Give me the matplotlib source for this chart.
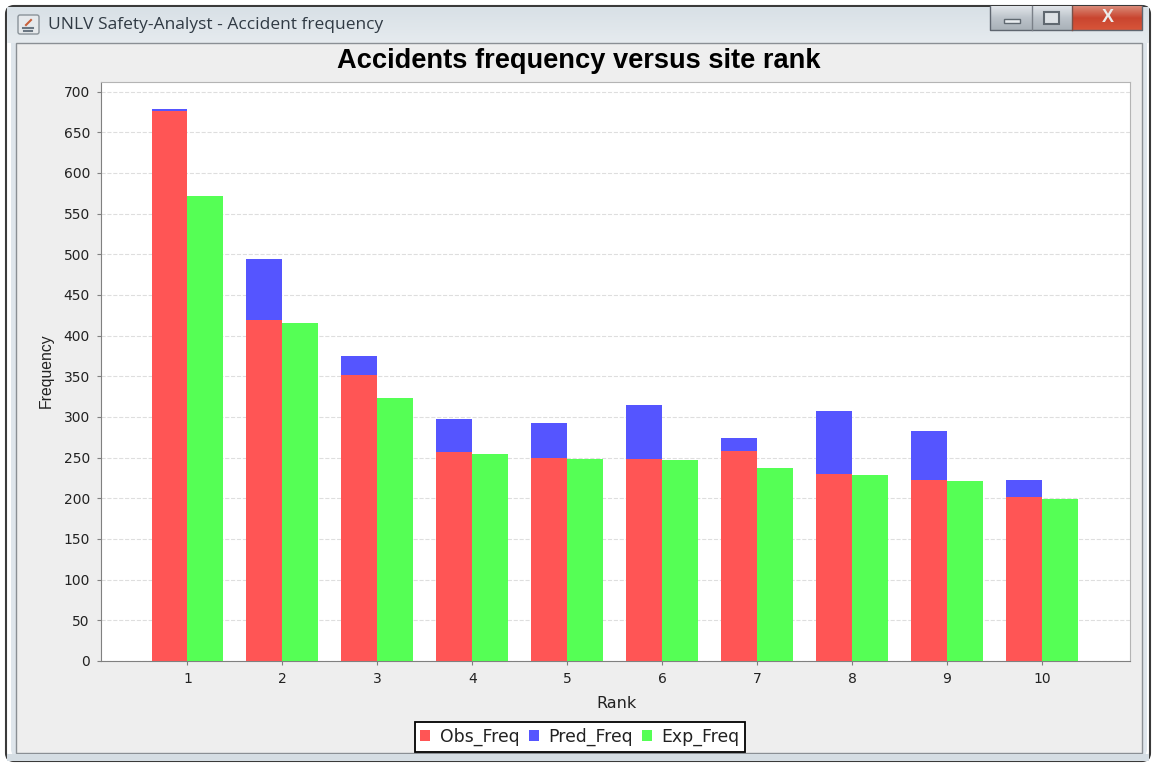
import numpy as np
import matplotlib
matplotlib.use('Agg')
import matplotlib.pyplot as plt
from matplotlib.colors import LinearSegmentedColormap
from matplotlib.patches import FancyBboxPatch, Rectangle

# valores
ranks = [1, 2, 3, 4, 5, 6, 7, 8, 9, 10]
obs_freq = [676, 419, 351, 257, 250, 248, 258, 230, 222, 202]
pred_freq = [679, 494, 375, 297, 293, 315, 274, 307, 283, 222]
exp_freq = [572, 416, 323, 254, 248, 247, 237, 229, 221, 199]
y_ticks = list(range(0, 701, 50))

W, H = 1152, 764
plt.rcParams['font.family'] = ['Liberation Sans', 'DejaVu Sans']

fig = plt.figure(figsize=(W / 100, H / 100), dpi=100, facecolor='white')

# janela do Windows, em pixels
bg = fig.add_axes([0, 0, 1, 1], zorder=0)
bg.axis('off')
bg.add_patch(FancyBboxPatch((11, 11), W - 16, H - 18, boxstyle='round,pad=0,rounding_size=8',
                            fc='#dfe6ec', ec='none', mutation_scale=1))
bg.add_patch(FancyBboxPatch((6, 6), W - 8, H - 9, boxstyle='round,pad=0,rounding_size=8',
                            fc='none', ec='#3a3a3a', lw=1.5, mutation_scale=1))
grad = np.linspace(0, 1, 256).reshape(-1, 1)
bg.imshow(grad, extent=(7, W - 3, 43, 7), cmap=LinearSegmentedColormap.from_list(
    'barra', ['#d8e0e6', '#e6ebef']), aspect='auto', zorder=1)
bg.add_patch(Rectangle((16, 43), 1126, 710, fc='#eeeeee', ec='#8a8f94', lw=1, zorder=2))
bg.add_patch(Rectangle((7, 754), W - 10, 7, fc='#d5dde3', ec='none', zorder=2))
bg.text(48, 25, 'UNLV Safety-Analyst - Accident frequency', fontsize=12.5, family='Open Sans',
        color='#303a44', va='center', ha='left', zorder=3)

# icone
bg.add_patch(FancyBboxPatch((18, 15), 21, 19, boxstyle='round,pad=0,rounding_size=2',
                            fc='#e6e9ec', ec='#8a9299', lw=1, mutation_scale=1, zorder=3))
bg.plot([23, 33], [28, 28], color='#6a7682', lw=1.5, zorder=4)
bg.plot([24, 32], [31, 31], color='#6a7682', lw=1.5, zorder=4)
bg.plot([26, 31], [25, 20], color='#c8603a', lw=1.5, zorder=4)

# botoes
cinza = LinearSegmentedColormap.from_list('cinza', ['#e2e6ea', '#bcc3ca', '#a9b1b8'])
verm = LinearSegmentedColormap.from_list('verm', ['#d98a78', '#c9452f', '#d8553a'])
bg.imshow(grad, extent=(990, 1072, 30, 6), cmap=cinza, aspect='auto', zorder=3)
bg.imshow(grad, extent=(1072, 1142, 30, 6), cmap=verm, aspect='auto', zorder=3)
bg.plot([990, 990, 1142, 1142], [6, 30, 30, 6], color='#5f6670', lw=1, zorder=4)
bg.plot([1032, 1032], [6, 30], color='#7a8088', lw=1, zorder=4)
bg.plot([1072, 1072], [6, 30], color='#7a5048', lw=1, zorder=4)
bg.add_patch(Rectangle((1004, 19), 16, 4, fc='#e8ecef', ec='#5f6870', lw=1, zorder=4))
bg.add_patch(Rectangle((1044, 12), 15, 12, fc='#dde2e6', ec='#5f6870', lw=1.5, zorder=4))
bg.text(1108, 18, 'X', fontsize=13, fontweight='bold', color='#ececec', ha='center', va='center', zorder=5)
bg.set_xlim(0, W)
bg.set_ylim(H, 0)

# grafico
left, right, top, bottom = 101, 1130, 82, 661
ax = fig.add_axes([left / W, 1 - bottom / H, (right - left) / W, (bottom - top) / H], zorder=2)
ax.set_facecolor('white')

x = np.array(ranks)
largura = 0.379
h_pred = ax.bar(x - largura / 2, pred_freq, largura, color='#5555ff', label='Pred_Freq', zorder=3)
h_obs = ax.bar(x - largura / 2, obs_freq, largura, color='#ff5555', label='Obs_Freq', zorder=4)
h_exp = ax.bar(x + largura / 2, exp_freq, largura, color='#55ff55', label='Exp_Freq', zorder=3)

ax.set_xlim(0.089, 10.927)
ax.set_ylim(0, 711.7)
ax.set_xticks(ranks)
ax.set_yticks(y_ticks)
ax.grid(axis='y', color='#dedede', linestyle='--', linewidth=0.8, zorder=0)
ax.tick_params(axis='both', labelsize=10, length=3, width=0.8, color='#808080',
               labelcolor='#222222', pad=5, labelfontfamily='DejaVu Sans')
for s in ax.spines.values():
    s.set_color('#b4b4b4')
ax.spines['left'].set_color('#808080')
ax.spines['bottom'].set_color('#808080')

fig.text(579 / W, 1 - 61 / H, 'Accidents frequency versus site rank', fontsize=19.6, fontweight='bold',
         color='black', ha='center', va='center', zorder=5)
fig.text(616 / W, 1 - 704 / H, 'Rank', fontsize=11.5, family='DejaVu Sans', color='#222222',
         ha='center', va='center', zorder=5)
fig.text(46 / W, 1 - 371 / H, 'Frequency', fontsize=11.3, color='#222222', rotation=90, ha='center',
         va='center', zorder=5)

leg = ax.legend(handles=[h_obs, h_pred, h_exp], loc='center', ncol=3,
                prop={'family': 'DejaVu Sans', 'size': 12.4},
                bbox_to_anchor=(580 / W, 1 - 737 / H), bbox_transform=fig.transFigure,
                frameon=True, fancybox=False, framealpha=1, edgecolor='black',
                handlelength=0.58, handleheight=0.62, handletextpad=0.55, columnspacing=0.55,
                borderpad=0.32, borderaxespad=0)
leg.get_frame().set_linewidth(1.3)
for t in leg.get_texts():
    t.set_color('#222222')

fig.savefig('out.png', dpi=100)
